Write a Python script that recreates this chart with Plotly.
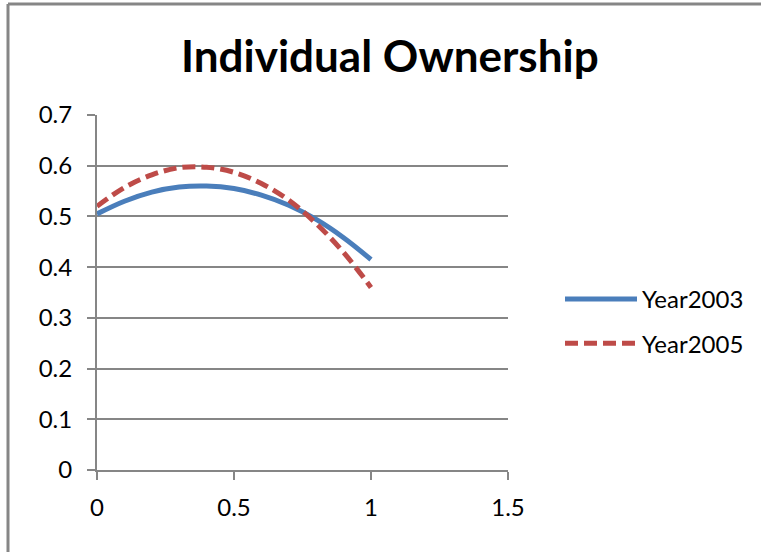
import plotly.graph_objects as go

# Share of individual ownership along the normalised scale
x_vals = [0.0, 0.1, 0.2, 0.3, 0.4, 0.5, 0.6, 0.7, 0.8, 0.9, 1.0]
year2003 = [0.505, 0.530, 0.548, 0.558, 0.560, 0.555, 0.542, 0.522, 0.494, 0.458, 0.415]
year2005 = [0.520, 0.557, 0.582, 0.596, 0.597, 0.587, 0.565, 0.532, 0.486, 0.429, 0.360]

x_ticks = [0, 0.5, 1, 1.5]
y_ticks = [0, 0.1, 0.2, 0.3, 0.4, 0.5, 0.6, 0.7]

W, H = 761, 552
GRAY = "#868686"
FONT = "Lato"
FS = 24

fig = go.Figure()
fig.add_trace(go.Scatter(
    x=x_vals, y=year2003, name="Year2003", mode="lines",
    line=dict(color="#4A7EBB", width=5, shape="spline"),
    legendgroup="a",
))
fig.add_trace(go.Scatter(
    x=x_vals, y=year2005, name="Year2005", mode="lines",
    line=dict(color="#BE4B48", width=5, shape="spline", dash="13px,6px"),
    legendgroup="b",
))

fig.update_layout(
    width=W, height=H, autosize=False,
    margin=dict(l=0, r=0, t=0, b=0, pad=0),
    paper_bgcolor="white", plot_bgcolor="white",
    font=dict(family=FONT, size=FS, color="black"),
    showlegend=True,
    legend=dict(
        x=560 / W, y=1 - 277 / H, xanchor="left", yanchor="top",
        font=dict(family=FONT, size=FS, color="black"),
        itemwidth=72, tracegroupgap=10, borderwidth=0,
        bgcolor="rgba(0,0,0,0)",
    ),
    xaxis=dict(
        domain=[97 / W, 508 / W], range=[0, 1.5], automargin=False,
        tickvals=x_ticks, ticktext=[str(v) for v in x_ticks],
        showgrid=False, zeroline=False,
        showline=True, linecolor=GRAY, linewidth=2,
        ticks="outside", ticklen=8, tickwidth=2, tickcolor=GRAY,
        ticklabelstandoff=7,
        tickfont=dict(family=FONT, size=FS, color="black"),
    ),
    yaxis=dict(
        domain=[1 - 470 / H, 1 - 115 / H], range=[0, 0.7], automargin=False,
        tickvals=y_ticks, ticktext=[("%g" % v) for v in y_ticks],
        showgrid=True, gridcolor=GRAY, gridwidth=2, zeroline=False,
        showline=True, linecolor=GRAY, linewidth=2,
        ticks="outside", ticklen=8, tickwidth=2, tickcolor=GRAY,
        ticklabelstandoff=10,
        tickfont=dict(family=FONT, size=FS, color="black"),
    ),
)

fig.add_annotation(
    text="<b>Individual Ownership</b>", xref="paper", yref="paper",
    x=390 / W, y=1 - 55 / H, xanchor="center", yanchor="middle",
    showarrow=False, font=dict(family=FONT, size=44, color="black"),
)

# Chart frame: left and top edges
fig.add_shape(type="line", xref="paper", yref="paper",
              x0=8 / W, x1=8 / W, y0=0, y1=1 - 4 / H,
              line=dict(color=GRAY, width=3))
fig.add_shape(type="line", xref="paper", yref="paper",
              x0=8 / W, x1=1, y0=1 - 4 / H, y1=1 - 4 / H,
              line=dict(color=GRAY, width=3))

fig.write_html(
    "out.html",
    config={"responsive": False, "displayModeBar": False},
    post_script="document.body.style.margin='0';document.body.style.overflow='hidden';",
)
